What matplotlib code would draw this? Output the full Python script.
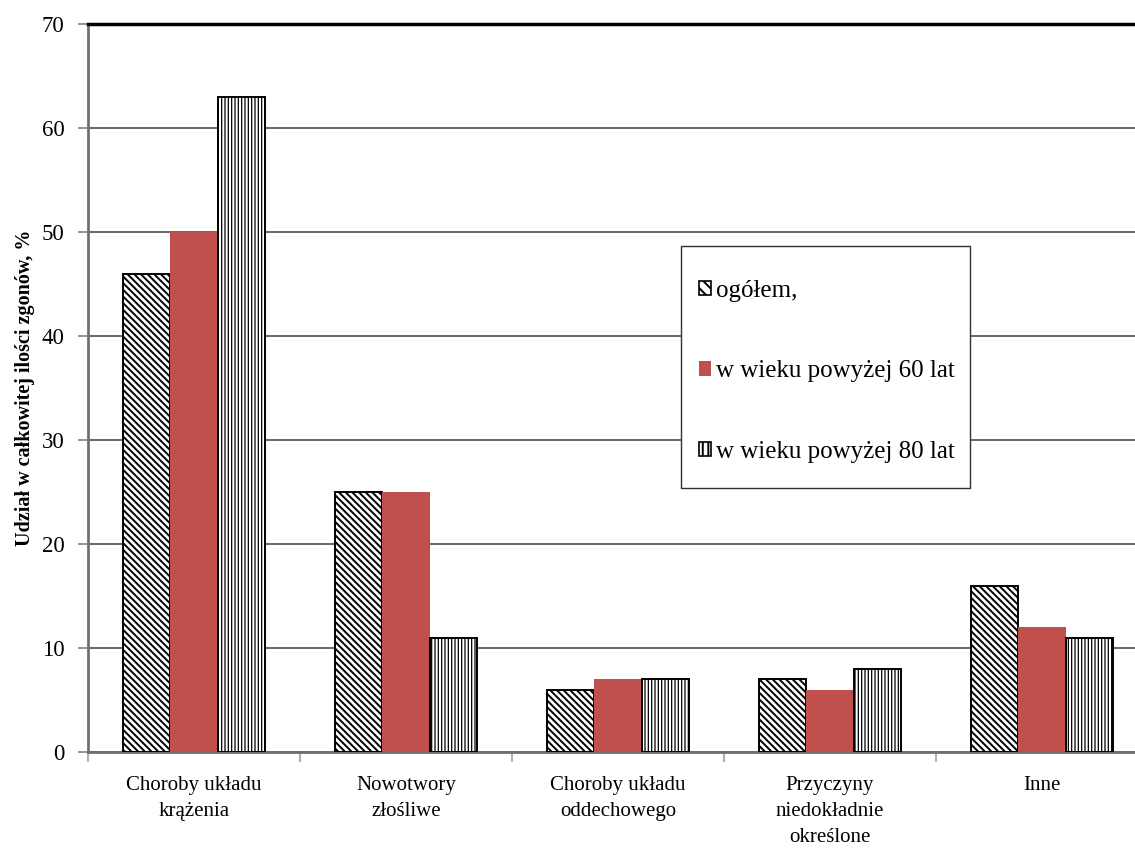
import matplotlib
matplotlib.use("Agg")
import matplotlib.pyplot as plt
from matplotlib.patches import Patch, Rectangle
import numpy as np

categories = ["Choroby układu\nkrążenia", "Nowotwory\nzłośliwe",
              "Choroby układu\noddechowego", "Przyczyny\nniedokładnie\nokreślone", "Inne"]
ogolem = [46, 25, 6, 7, 16]
powyzej_60 = [50, 25, 7, 6, 12]
powyzej_80 = [63, 11, 7, 8, 11]
series_labels = ["ogółem,", "w wieku powyżej 60 lat", "w wieku powyżej 80 lat"]
yticks = [0, 10, 20, 30, 40, 50, 60, 70]

plt.rcParams['font.family'] = ['Liberation Serif', 'DejaVu Serif']
plt.rcParams['hatch.linewidth'] = 1.4

W, H = 1135, 849
fig = plt.figure(figsize=(W / 100, H / 100), dpi=100)
ax = fig.add_axes([88 / W, 1 - 752 / H, (1148 - 88) / W, (752 - 24) / H])

x = np.arange(len(categories))
bw = 0.222
red = "#C0504D"
diag = "\\" * 5
vert = "|" * 5

ax.bar(x - bw, ogolem, bw, facecolor="white", edgecolor="black", hatch=diag,
       linewidth=1.4, zorder=3)
ax.bar(x, powyzej_60, bw, facecolor=red, edgecolor=red, linewidth=0, zorder=3)
with plt.rc_context({'hatch.linewidth': 0.9}):
    ax.bar(x + bw, powyzej_80, bw, facecolor="white", edgecolor="black", hatch=vert,
           linewidth=1.4, zorder=3)

ax.set_xlim(-0.5, len(categories) - 0.5)
ax.set_ylim(0, 70)
ax.set_yticks(yticks)
ax.set_yticklabels([str(v) for v in yticks], fontsize=16.5)
ax.yaxis.grid(True, color="#404040", linewidth=1.1, zorder=0)
ax.set_axisbelow(True)

# category boundaries carry the tick marks, centres carry the labels
ax.set_xticks(np.arange(len(categories) + 1) - 0.5)
ax.set_xticklabels([])
ax.set_xticks(x, minor=True)
ax.set_xticklabels(categories, minor=True, fontsize=15, linespacing=1.52)
ax.tick_params(axis="x", which="major", length=7, width=1.5, color="#b0b0b0", direction="out")
ax.tick_params(axis="x", which="minor", length=0, pad=17)
ax.tick_params(axis="y", length=7, width=1.2, color="#808080", pad=10)

for side in ("left", "bottom"):
    ax.spines[side].set_color("#707070")
    ax.spines[side].set_linewidth(2.0)
ax.spines["top"].set_color("black")
ax.spines["top"].set_linewidth(2.5)
ax.spines["right"].set_visible(False)

ax.set_ylabel("Udział w całkowitej ilości zgonów, %", fontsize=14.5, fontweight="bold", labelpad=5)

# legend frame and entries
fig.patches.append(Rectangle((681 / W, 1 - 488 / H), (970 - 681) / W, (488 - 246) / H,
                             transform=fig.transFigure, facecolor="white",
                             edgecolor="#303030", linewidth=1.0, zorder=5))
handles = [Patch(facecolor="white", edgecolor="black", hatch="\\\\\\", linewidth=1.2),
           Patch(facecolor=red, edgecolor=red, linewidth=0),
           Patch(facecolor="white", edgecolor="black", hatch="|||", linewidth=1.2)]
leg = fig.legend(handles, series_labels, loc="upper left",
                 bbox_to_anchor=(681 / W, 1 - 262 / H), frameon=False,
                 fontsize=18, handlelength=0.5, handleheight=0.5,
                 handletextpad=0.2, labelspacing=2.35, borderpad=0.2)
leg.set_zorder(6)

fig.savefig("out.png", dpi=100)
